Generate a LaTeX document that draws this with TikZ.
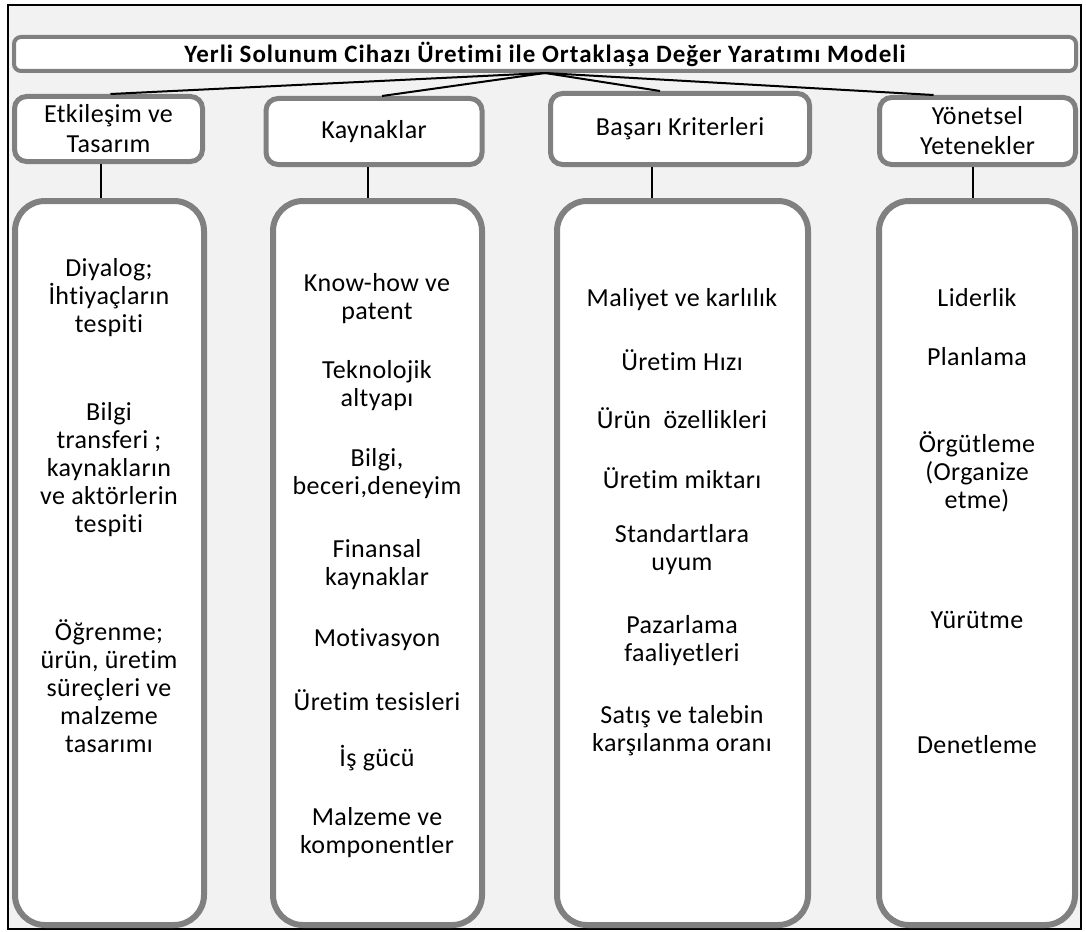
\documentclass[tikz,border=0pt]{standalone}
\usepackage{fontspec}
\setmainfont[LetterSpace=1.5,Ligatures=NoCommon]{Carlito}
\newfontfamily\titlefont[LetterSpace=4,Ligatures=NoCommon]{Carlito}
\usetikzlibrary{calc}
\definecolor{bggray}{HTML}{F2F2F2}
\definecolor{boxgray}{HTML}{808080}
\begin{document}
\begin{tikzpicture}[x=1pt,y=-1pt,
  titlebox/.style={draw=boxgray, line width=4, fill=white, rounded corners=7,
    minimum width=1062, minimum height=34, inner sep=0,
    font=\titlefont\fontsize{25}{28}\selectfont\bfseries},
  headbox/.style={draw=boxgray, line width=5, fill=white, rounded corners=12,
    inner sep=0, align=center, font=\fontsize{26}{30}\selectfont},
  colbox/.style={draw=boxgray, line width=6, fill=white, rounded corners=30,
    inner sep=0, minimum height=724},
  item/.style={align=center, inner sep=0, font=\fontsize{26}{28}\selectfont},
  link/.style={draw=black, line width=2}]
\useasboundingbox (0,0) rectangle (1086,931);
% frame and background
\draw[black, line width=2, fill=bggray] (8,5) rectangle (1081,929);

% title
\node[titlebox] (title) at (545,54) {Yerli Solunum Cihazı Üretimi ile Ortaklaşa Değer Yaratımı Modeli};

% headers
\node[headbox, minimum width=188, minimum height=65] (h1) at (108.5,129) {Etkileşim ve\\Tasarım};
\node[headbox, minimum width=216, minimum height=66] (h2) at (374,131.5) {Kaynaklar};
\node[headbox, minimum width=259, minimum height=71] (h3) at (680,129) {Başarı Kriterleri};
\node[headbox, minimum width=196, minimum height=67] (h4) at (977.5,131) {Yönetsel\\Yetenekler};

% columns
\node[colbox, minimum width=189] (c1) at (109.5,563) {};
\node[colbox, minimum width=209] (c2) at (377.5,563) {};
\node[colbox, minimum width=251] (c3) at (682.5,563) {};
\node[colbox, minimum width=196] (c4) at (977,563) {};

% connectors from title to headers
\draw[link] (title.south) -- ([xshift=2]h1.north);
\draw[link] (title.south) -- ([xshift=8]h2.north);
\draw[link] (title.south) -- ([xshift=-20]h3.north);
\draw[link] (title.south) -- ([xshift=-44]h4.north);

% connectors from headers to columns
\draw[link] ([xshift=-8]h1.south) -- ([xshift=-8]h1.south |- c1.north);
\draw[link] ([xshift=-6]h2.south) -- ([xshift=-6]h2.south |- c2.north);
\draw[link] ([xshift=-28]h3.south) -- ([xshift=-28]h3.south |- c3.north);
\draw[link] ([xshift=-5]h4.south) -- ([xshift=-5]h4.south |- c4.north);

% column 1 items
\node[item] (c1a) at (109,298) {Diyalog;\\İhtiyaçların\\tespiti};
\node[item] (c1b) at (109,470) {Bilgi\\transferi ;\\kaynakların\\ve aktörlerin\\tespiti};
\node[item] (c1c) at (109,686) {Öğrenme;\\ürün, üretim\\süreçleri ve\\malzeme\\tasarımı};

% column 2 items
\node[item] (c2a) at (377,299) {Know-how ve\\patent};
\node[item] (c2b) at (377,386) {Teknolojik\\altyapı};
\node[item] (c2c) at (377,474) {Bilgi,\\beceri,deneyim};
\node[item] (c2d) at (377,565) {Finansal\\kaynaklar};
\node[item] (c2e) at (377,640) {Motivasyon};
\node[item] (c2f) at (377,700) {Üretim tesisleri};
\node[item] (c2g) at (377,758) {İş gücü};
\node[item] (c2h) at (377,833) {Malzeme ve\\komponentler};

% column 3 items
\node[item] (c3a) at (682,300) {Maliyet ve karlılık};
\node[item] (c3b) at (682,360) {Üretim Hızı};
\node[item] (c3c) at (682,418) {Ürün\ \ özellikleri};
\node[item] (c3d) at (682,478) {Üretim miktarı};
\node[item] (c3e) at (682,550) {Standartlara\\uyum};
\node[item] (c3f) at (682,641) {Pazarlama\\faaliyetleri};
\node[item] (c3g) at (682,731) {Satış ve talebin\\karşılanma oranı};

% column 4 items
\node[item] (c4a) at (977,298) {Liderlik};
\node[item] (c4b) at (977,357) {Planlama};
\node[item] (c4c) at (977,472) {Örgütleme\\(Organize\\etme)};
\node[item] (c4d) at (977,620) {Yürütme};
\node[item] (c4e) at (977,745) {Denetleme};
\end{tikzpicture}
\end{document}
